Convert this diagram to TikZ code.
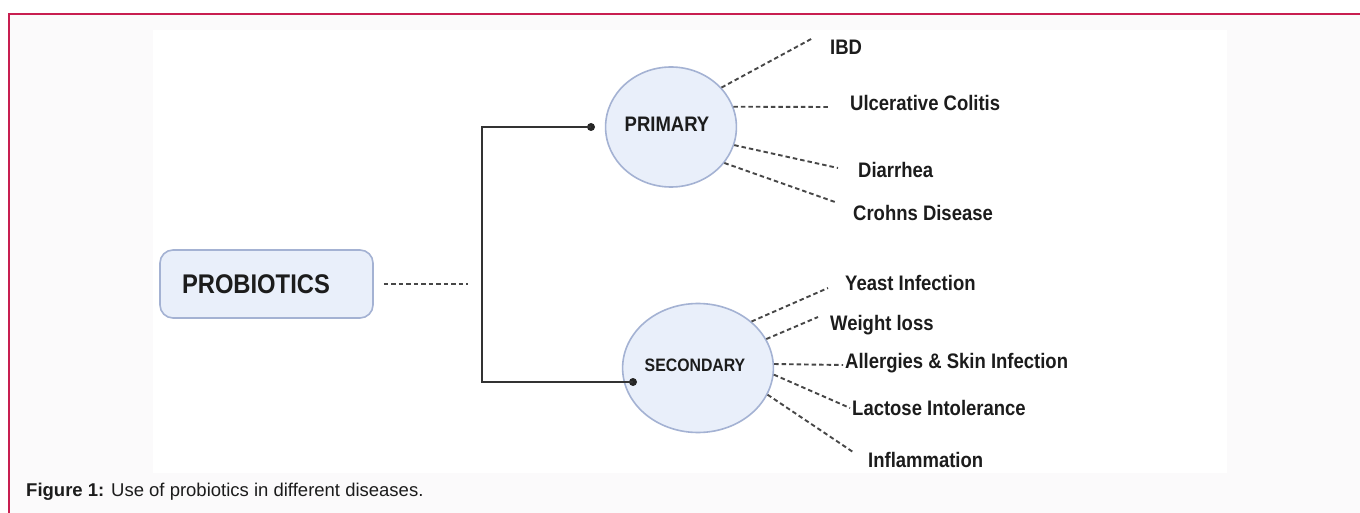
\documentclass[tikz,border=0pt]{standalone}
\usepackage{fontspec}
\setmainfont{Liberation Sans}
\newfontfamily\diafont[FakeStretch=0.88]{Liberation Sans}
\usepackage{tikz}
\usetikzlibrary{shapes.geometric,calc}

\definecolor{frame}{HTML}{C81E50}
\definecolor{pagebg}{HTML}{FBFAFB}
\definecolor{bluefill}{HTML}{E9EFFA}
\definecolor{blueline}{HTML}{A4B2D3}
\definecolor{ink}{HTML}{1C1C1C}

\begin{document}
\begin{tikzpicture}[
  x=1pt, y=-1pt,
  font=\diafont\bfseries\fontsize{21}{25}\selectfont,
  box/.style={draw=blueline, fill=bluefill, line width=1.6pt, rounded corners=13pt,
              minimum width=213pt, minimum height=68pt, inner xsep=22pt,
              text width=169pt, align=left, text=ink},
  ell/.style={ellipse, draw=blueline, fill=bluefill, line width=1.6pt, inner sep=0pt, text=ink},
  lbl/.style={anchor=west, inner sep=0pt, text=ink},
  dl/.style={draw=black!72, line width=1.9pt, dash pattern=on 4.5pt off 3pt},
  trunk/.style={draw=black!80, line width=2.4pt},
  dot/.style={circle, fill=black!85, inner sep=0pt, minimum size=8pt}]
\useasboundingbox (0,0) rectangle (1360,513);
% page background and frame
\fill[white] (0,0) rectangle (1360,513);
\fill[pagebg] (9,14) rectangle (1360,513);
\fill[white] (153,30) rectangle (1227,473);
\draw[frame, line width=2pt] (9,513) -- (9,14) -- (1360,14);

\node[box, font=\diafont\bfseries\fontsize{27}{32}\selectfont] (prob) at (266.5,284) {PROBIOTICS};
\node[ell, minimum width=128pt, minimum height=120pt] (prim) at (671,127) {\raisebox{6pt}{PRIMARY\hspace{8pt}}};
\node[ell, minimum width=127pt, minimum height=129pt, font=\diafont\bfseries\fontsize{18}{21}\selectfont] (sec) at (698,368) {\raisebox{5pt}{SECONDARY\hspace{6pt}}};

\node[dot] (pdot) at (591,127) {};
\node[dot] (sdot) at (633,382) {};
\coordinate (jn) at (468,284);

% primary diseases
\node[lbl] (ibd) at (830,47) {IBD};
\node[lbl] (uc) at (850,103) {Ulcerative Colitis};
\node[lbl] (dia) at (858,170) {Diarrhea};
\node[lbl] (crd) at (853,213) {Crohns Disease};
% secondary diseases
\node[lbl] (yst) at (845,283) {Yeast Infection};
\node[lbl] (wl) at (830,325) {Weight loss};
\node[lbl] (alg) at (845,363) {Allergies \& Skin Infection};
\node[lbl] (lac) at (852,408) {Lactose Intolerance};
\node[lbl] (inf) at (868,460) {Inflammation};

\draw[trunk] (pdot.center) -- ++(-109,0) |- (sdot.center);
\draw[dl] ([xshift=10pt]prob.east) -- (jn);

\draw[dl] (prim.38) -- ([shift={(-17,-9)}]ibd.west);
\draw[dl] (prim.18) -- ([shift={(-20,4)}]uc.west);
\draw[dl] (prim.-16) -- ([shift={(-20,-2)}]dia.west);
\draw[dl] (prim.-34) -- ([shift={(-18,-11)}]crd.west);

\draw[dl] (sec.41) -- ([shift={(-17,5)}]yst.west);
\draw[dl] (sec.23) -- ([shift={(-12,-8)}]wl.west);
\draw[dl] (sec.3) -- ([shift={(-2,2)}]alg.west);
\draw[dl] (sec.-5) -- ([shift={(-2,0)}]lac.west);
\draw[dl] (sec.-21) -- ([shift={(-15,-8)}]inf.west);

\node[anchor=west, inner sep=0pt, font=\rmfamily\mdseries\fontsize{18.5}{22}\selectfont, text=ink] (cap) at (26,492)
  {\textbf{Figure 1:} Use of probiotics in different diseases.};
\end{tikzpicture}
\end{document}
